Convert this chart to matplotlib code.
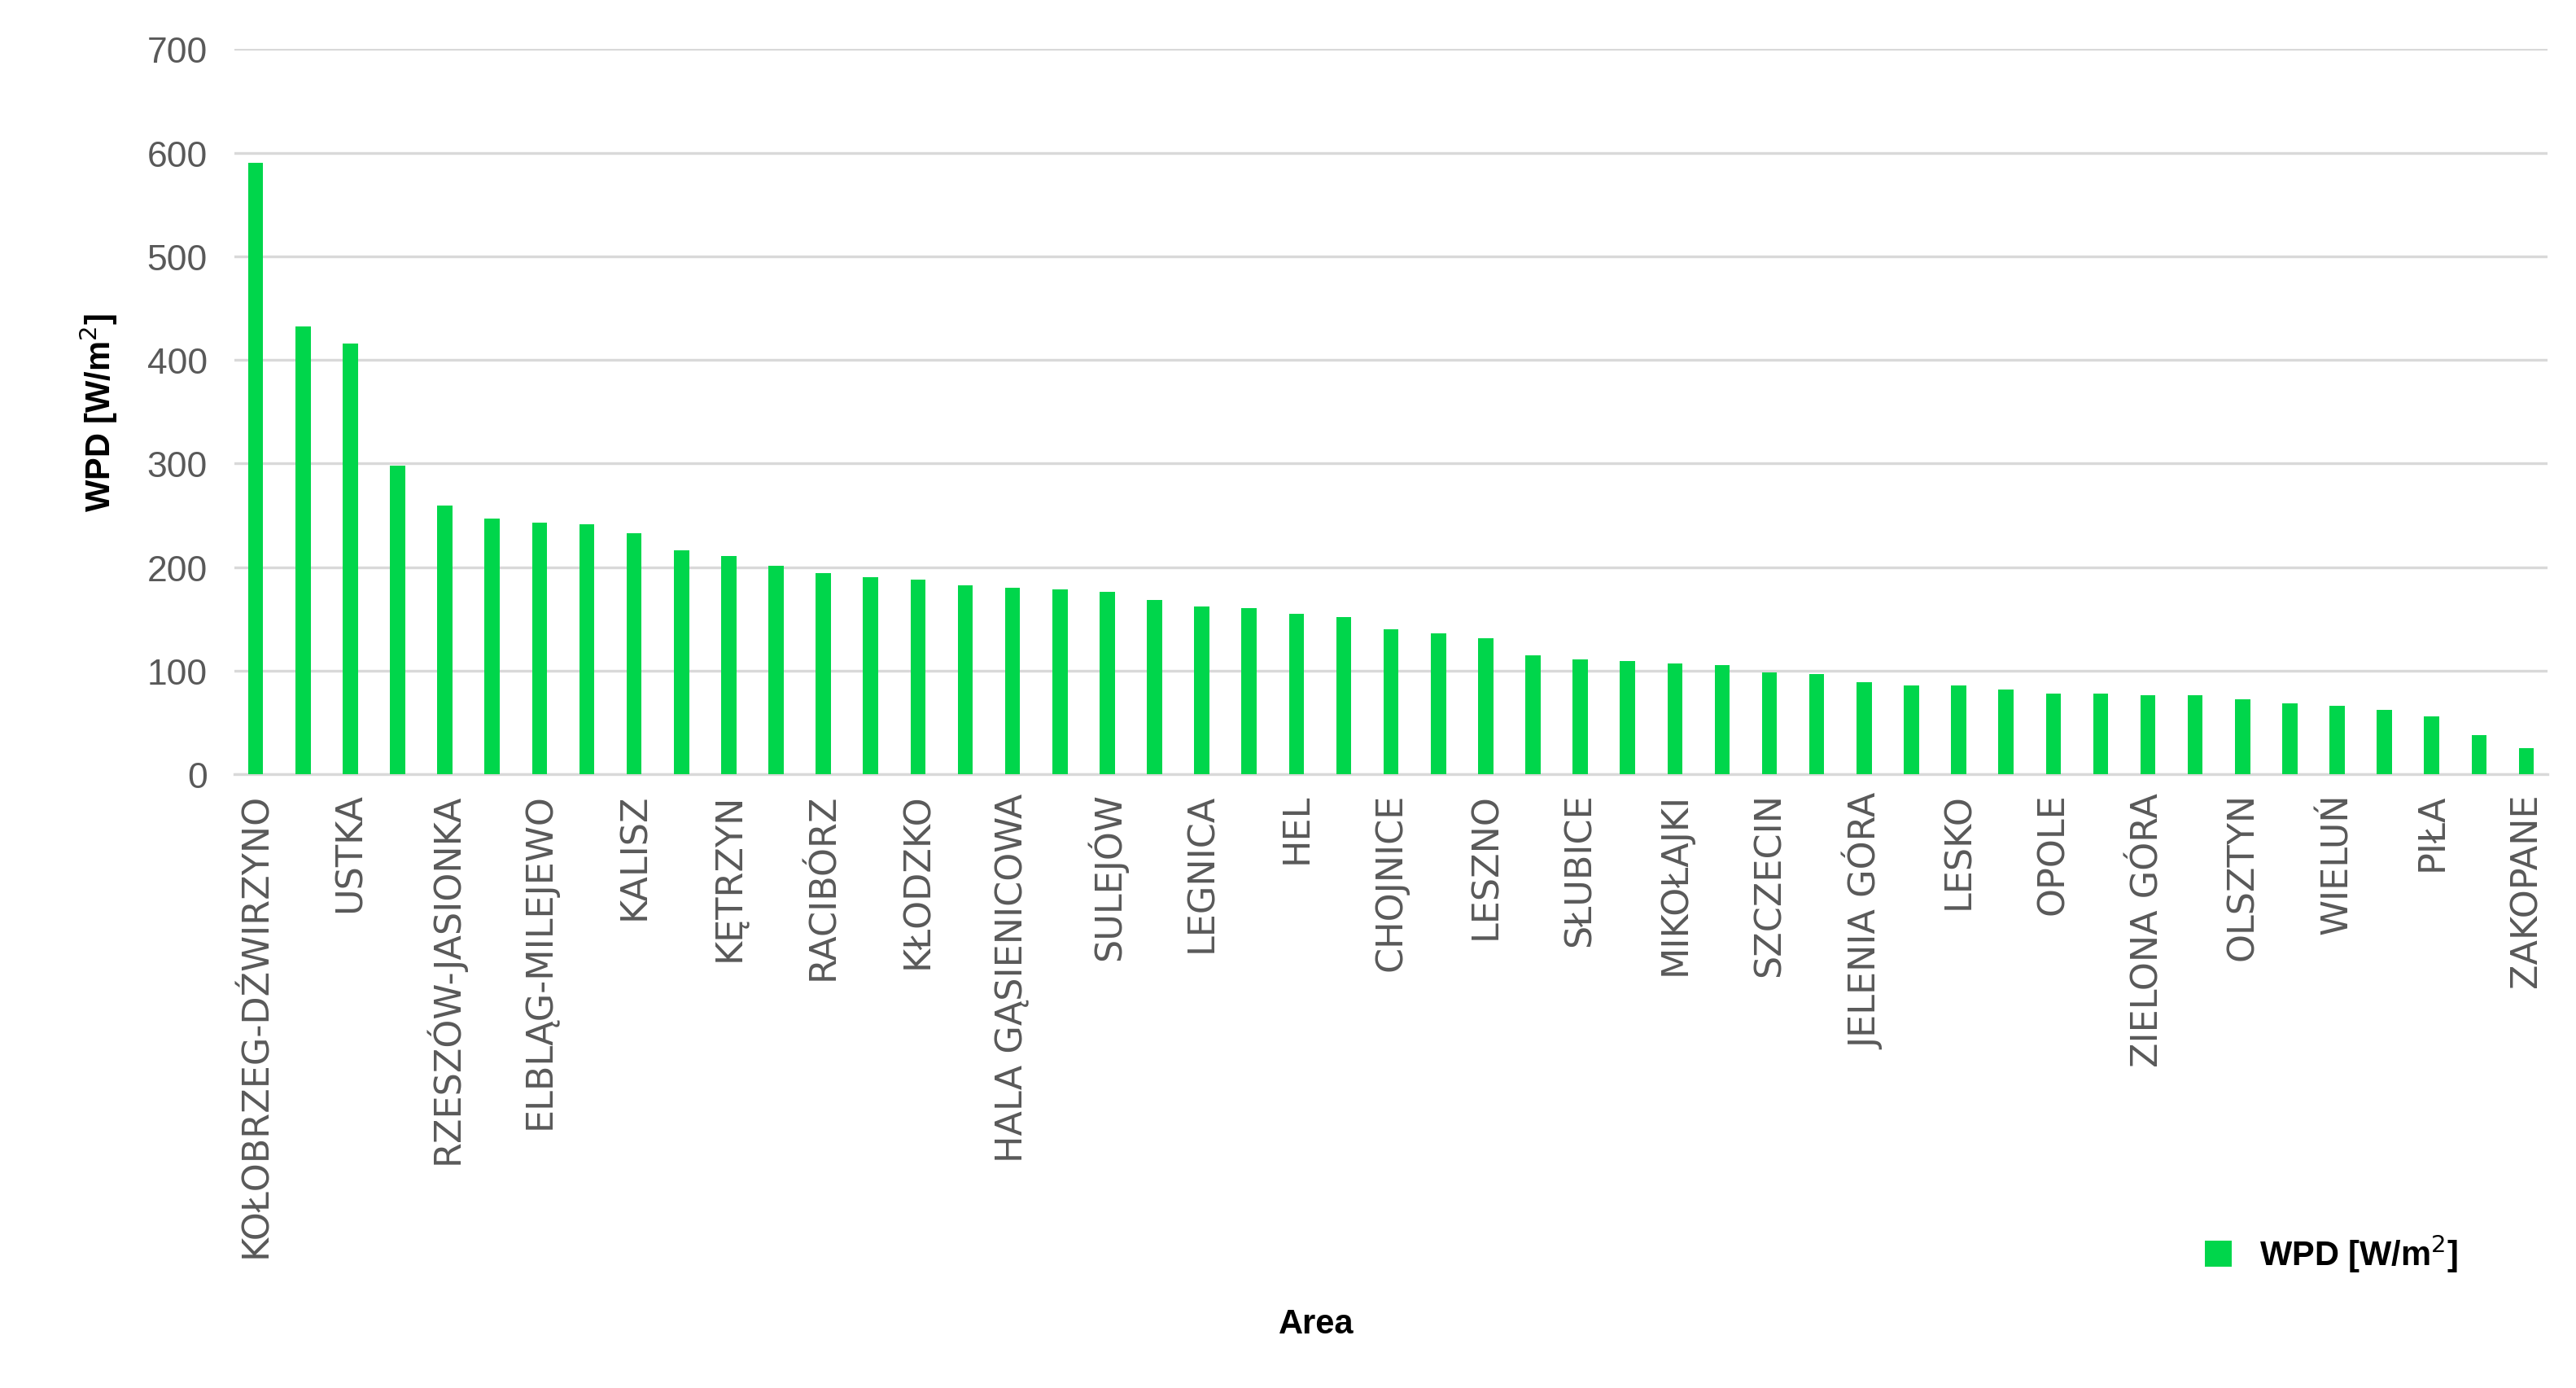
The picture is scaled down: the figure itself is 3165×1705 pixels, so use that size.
import matplotlib.pyplot as plt
import numpy as np

# WPD values per station, sorted descending
wpd = [590, 432, 416, 298, 259, 247, 243, 241, 233, 216, 211, 201, 194, 190, 188,
       182, 180, 178, 176, 168, 162, 160, 155, 152, 140, 136, 131, 115, 111, 109,
       107, 105, 98, 97, 89, 86, 86, 82, 78, 78, 76, 76, 72, 68, 66, 62, 56, 38, 25]
# only every other station is labelled on the axis
tick_labels = ["KOŁOBRZEG-DŹWIRZYNO", "USTKA", "RZESZÓW-JASIONKA", "ELBLĄG-MILEJEWO",
               "KALISZ", "KĘTRZYN", "RACIBÓRZ", "KŁODZKO", "HALA GĄSIENICOWA",
               "SULEJÓW", "LEGNICA", "HEL", "CHOJNICE", "LESZNO", "SŁUBICE",
               "MIKOŁAJKI", "SZCZECIN", "JELENIA GÓRA", "LESKO", "OPOLE",
               "ZIELONA GÓRA", "OLSZTYN", "WIELUŃ", "PIŁA", "ZAKOPANE"]

green = '#00D64B'
grey = '#595959'

fig = plt.figure(figsize=(15.825, 8.53), dpi=200)
ax = fig.add_axes([0.091, 0.442, 0.898, 0.522])

x = np.arange(len(wpd))
ax.bar(x, wpd, width=0.32, color=green, label='WPD [W/m$^2$]', zorder=3)

ax.set_xlim(-0.45, len(wpd) - 0.55)
ax.set_ylim(0, 700)
ax.set_yticks(range(0, 701, 100))
ax.grid(axis='y', color='#d9d9d9', linewidth=1.2, zorder=0)
for s in ['top', 'right', 'left']:
    ax.spines[s].set_visible(False)
ax.spines['bottom'].set_color('#d9d9d9')
ax.spines['bottom'].set_linewidth(1.2)

ax.set_xticks(x[::2])
ax.set_xticklabels(tick_labels, rotation=90, fontsize=16, color=grey,
                   family=['Liberation Sans Narrow', 'DejaVu Sans'])
ax.tick_params(axis='x', length=0, pad=8)
ax.tick_params(axis='y', length=0, labelsize=16, labelcolor=grey, pad=12)
for t in ax.get_yticklabels():
    t.set_family(['Liberation Sans', 'DejaVu Sans'])

ax.set_ylabel('WPD [W/m$^2$]', fontsize=15, fontweight='bold',
              family=['Liberation Sans', 'DejaVu Sans'], labelpad=12)
fig.text(0.511, 0.04, 'Area', ha='center', fontsize=15, fontweight='bold',
         family=['Liberation Sans', 'DejaVu Sans'])

fig.legend(loc='center', bbox_to_anchor=(0.905, 0.097), frameon=False,
           prop={'family': 'Liberation Sans', 'weight': 'bold', 'size': 15},
           handlelength=0.8, handleheight=0.8)

fig.savefig('out.png')
